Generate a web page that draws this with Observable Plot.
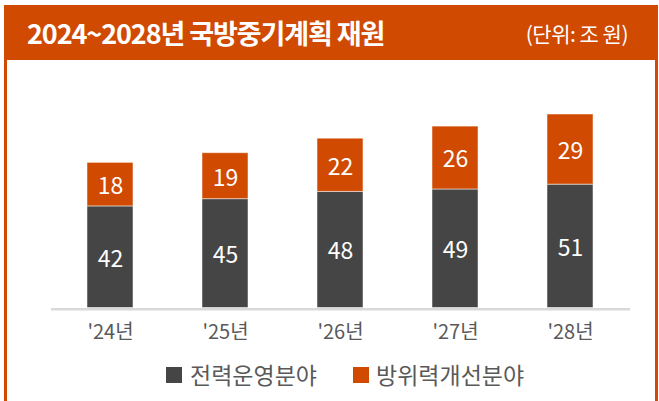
<!DOCTYPE html>
<html><head><meta charset="utf-8">
<script src="https://cdn.jsdelivr.net/npm/d3@7"></script>
<script src="https://cdn.jsdelivr.net/npm/@observablehq/plot@0.6"></script>
<style>
html,body{margin:0;padding:0;background:#fff;width:659px;height:401px;overflow:hidden;font-family:"Noto Sans CJK KR","Noto Sans",sans-serif;}
#frame{position:absolute;left:4px;top:5px;width:648px;height:420px;border:3px solid #D04A02;border-top:none;}
#header{position:absolute;left:4px;top:5px;width:654px;height:55px;background:#D04A02;}
#title{position:absolute;left:27px;top:12px;color:#fff;font-weight:700;font-size:27px;line-height:42px;letter-spacing:-1.1px;white-space:nowrap;}
#unit{position:absolute;right:31px;top:13px;color:#fff;font-size:21px;line-height:40px;white-space:nowrap;letter-spacing:-0.5px;}
#chart{position:absolute;left:0;top:60px;}
.lg{position:absolute;top:359px;height:30px;line-height:30px;font-size:23px;color:#595959;white-space:nowrap;}
.sw{position:absolute;top:367px;width:16px;height:16px;}
</style></head>
<body>
<div id="frame"></div>
<div id="header"></div>
<div id="title">2024~2028년 국방중기계획 재원</div>
<div id="unit">(단위: 조 원)</div>
<div id="chart"></div>
<div id="legend"></div>
<script>
const years = ["'24년", "'25년", "'26년", "'27년", "'28년"];
const series = ["전력운영분야", "방위력개선분야"];
const colors = ["#454545", "#D04A02"];
const operations = [42, 45, 48, 49, 51];
const improvement = [18, 19, 22, 26, 29];

const data = [];
years.forEach((y, i) => data.push({year: y, series: series[0], value: operations[i]}));
years.forEach((y, i) => data.push({year: y, series: series[1], value: improvement[i]}));

const chart = Plot.plot({
  width: 659,
  height: 300,
  marginLeft: 51,
  marginRight: 29,
  marginTop: 54,
  marginBottom: 52.5,
  style: {background: "transparent", fontFamily: "'Noto Sans CJK KR','Noto Sans',sans-serif"},
  x: {domain: years, paddingInner: 0.6, paddingOuter: 0.3, label: null},
  y: {domain: [0, 80], axis: null},
  color: {domain: series, range: colors},
  marks: [
    Plot.barY(data, Plot.stackY({x: "year", y: "value", z: "series", fill: "series", order: null, stroke: "#ffffff", strokeOpacity: 0.5, strokeWidth: 1})),
    Plot.ruleY([0], {stroke: "#d9d9d9", strokeWidth: 2.5, dy: 1.2}),
    Plot.text(data, Plot.stackY({x: "year", y: "value", z: "series", order: null, text: d => String(d.value), fill: "#ffffff", fontSize: 23, dy: 2})),
    Plot.axisX({tickSize: 0, tickPadding: 17, fontSize: 20, color: "#595959", label: null})
  ]
});
document.getElementById("chart").appendChild(chart);

const legend = document.getElementById("legend");
const lgPos = [[166, 190], [353, 376]];
series.forEach((s, i) => {
  const sw = document.createElement("div");
  sw.className = "sw";
  sw.style.left = lgPos[i][0] + "px";
  sw.style.background = colors[i];
  legend.appendChild(sw);
  const t = document.createElement("div");
  t.className = "lg";
  t.style.left = lgPos[i][1] + "px";
  t.textContent = s;
  legend.appendChild(t);
});
</script>
</body></html>
